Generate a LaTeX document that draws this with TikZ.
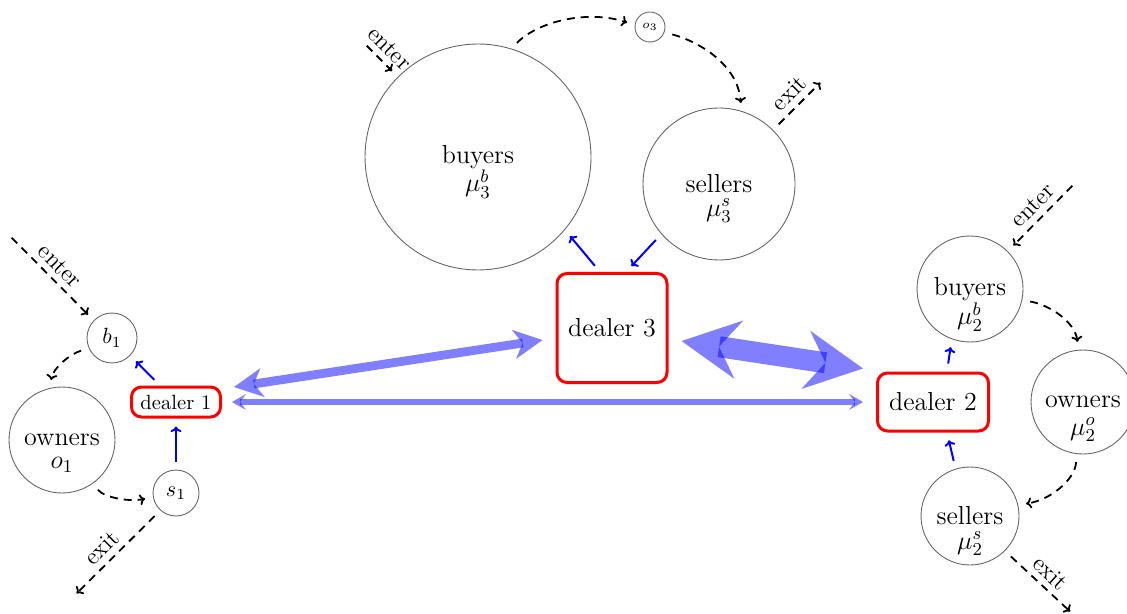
\documentclass[tikz,border=0pt]{standalone}
\usepackage{fix-cm}
\usepackage{fontspec}
\usetikzlibrary{arrows.meta,calc}

\begin{document}
\begin{tikzpicture}[x=0.5pt,y=-0.5pt,
  bigtext/.style={font=\fontsize{13}{11}\selectfont},
  pop/.style={circle, draw=black!60, line width=0.45pt, inner sep=0pt, align=center, bigtext},
  popsub/.style={inner sep=0pt, bigtext},
  dealer/.style={draw=red, line width=1.5pt, rounded corners=5pt, inner sep=0pt, align=center},
  drift/.style={-{To[length=2.8pt,width=5.5pt]}, line width=0.9pt, dash pattern=on 4pt off 3pt,
    shorten >=4pt, shorten <=4pt},
  feed/.style={-{To[length=2.8pt,width=5.5pt]}, draw=blue, line width=1pt,
    shorten >=4pt, shorten <=4pt},
  edgetag/.style={sloped, above, font=\fontsize{12}{14}\selectfont, inner sep=3pt},
  trade/.style={draw=blue, opacity=0.5}
]
\useasboundingbox (0,0) rectangle (1127,614);

% ---- market 1 (left)
\node[pop, minimum size=25pt, font=\fontsize{11}{13}\selectfont] (b1) at (112,338) {$b_1$};
\node[pop, minimum size=53pt] (o1) at (62,440) {owners};
\node[popsub] (o1n) at (62,465) {$o_1$};
\node[pop, minimum size=23pt, font=\fontsize{11}{13}\selectfont] (s1) at (176,493) {$s_1$};
\node[dealer, minimum width=44.5pt, minimum height=15pt, font=\fontsize{10.3}{12}\selectfont] (d1) at (176,402) {dealer 1};

% ---- market 3 (top)
\node[pop, minimum size=113pt] (bu3) at (478,157) {buyers};
\node[popsub] (bu3n) at (478,184) {$\mu_3^b$};
\node[pop, minimum size=76pt] (se3) at (719,184) {sellers};
\node[popsub] (se3n) at (719,211) {$\mu_3^s$};
\node[pop, minimum size=15pt, font=\fontsize{6}{7}\selectfont] (o3) at (650,27) {$o_3$};
\node[dealer, minimum width=55pt, minimum height=54.5pt, bigtext] (d3) at (612,328) {dealer 3};

% ---- market 2 (right)
\node[dealer, minimum width=55.5pt, minimum height=29pt, bigtext] (d2) at (933,402) {dealer 2};
\node[pop, minimum size=53pt] (bu2) at (970,289) {buyers};
\node[popsub] (bu2n) at (970,317) {$\mu_2^b$};
\node[pop, minimum size=52pt] (ow2) at (1083,402) {owners};
\node[popsub] (ow2n) at (1083,430) {$\mu_2^o$};
\node[pop, minimum size=49pt] (se2) at (970,516) {sellers};
\node[popsub] (se2n) at (970,544) {$\mu_2^s$};

% free ends of the entry and exit flows
\coordinate (inL) at (6,232);
\coordinate (outL) at (71,599);
\coordinate (in3) at (361,40);
\coordinate (out3) at (826,77);
\coordinate (inR) at (1078,180);
\coordinate (outR) at (1076,617);

% ---- population flows (dashed)
\draw[drift] (inL) -- (b1.136) node[edgetag, pos=0.5] {enter};
\draw[drift] (b1.204) .. controls (70,354) and (53,368) .. (o1.103);
\draw[drift] (o1.-55) .. controls (105,498) and (130,502) .. (s1.190);
\draw[drift] (s1.228) -- (outL) node[edgetag, pos=0.54] {exit};

\draw[drift] (in3) -- (bu3.135) node[edgetag, pos=0.5] {enter};
\draw[drift] (bu3.73) .. controls (540,20) and (590,10) .. (o3.173);
\draw[drift] (o3.-20) .. controls (700,42) and (738,65) .. (se3.73);
\draw[drift] (se3.45) -- (out3) node[edgetag, pos=0.5] {exit};

\draw[drift] (inR) -- (bu2.45) node[edgetag, pos=0.5] {enter};
\draw[drift] (bu2.-12) .. controls (1050,305) and (1075,322) .. (ow2.95);
\draw[drift] (ow2.263) .. controls (1075,480) and (1050,500) .. (se2.13);
\draw[drift] (se2.-45) -- (outR) node[edgetag, pos=0.5] {exit};

% ---- dealer interactions (blue)
\draw[feed] ($(d1.north)+(-16,0)$) -- (b1.-44);
\draw[feed] (s1.north) -- (d1.south);
\draw[feed] ($(d3.north)+(-12,0)$) -- (bu3.-40);
\draw[feed] (se3.221) -- ($(d3.north)+(14,0)$);
\draw[feed] ($(d2.north)+(14,0)$) -- (bu2.250);
\draw[feed] (se2.107) -- ($(d2.south)+(14,0)$);

% ---- inter-dealer trade
\draw[trade, line width=4.4pt,
  {Stealth[length=14.5pt,width=14.7pt,inset=4.5pt,line width=0pt]}-{Stealth[length=14.5pt,width=14.7pt,inset=4.5pt,line width=0pt]}]
  ($(d1.east)+(12,-15)$) -- ($(d3.west)+(-13,12)$);
\draw[trade, line width=2.6pt,
  {Stealth[length=7pt,width=8pt,inset=3pt,line width=0pt]}-{Stealth[length=7pt,width=8pt,inset=3pt,line width=0pt]}]
  ($(d1.east)+(10,0)$) -- ($(d2.west)+(-13,0)$);
\draw[trade, line width=10.5pt,
  {Stealth[length=29pt,width=29.5pt,inset=10pt,line width=0pt]}-{Stealth[length=29pt,width=29.5pt,inset=10pt,line width=0pt]}]
  ($(d3.east)+(13,13)$) -- ($(d2.north west)+(-13,-3)$);
\end{tikzpicture}
\end{document}
